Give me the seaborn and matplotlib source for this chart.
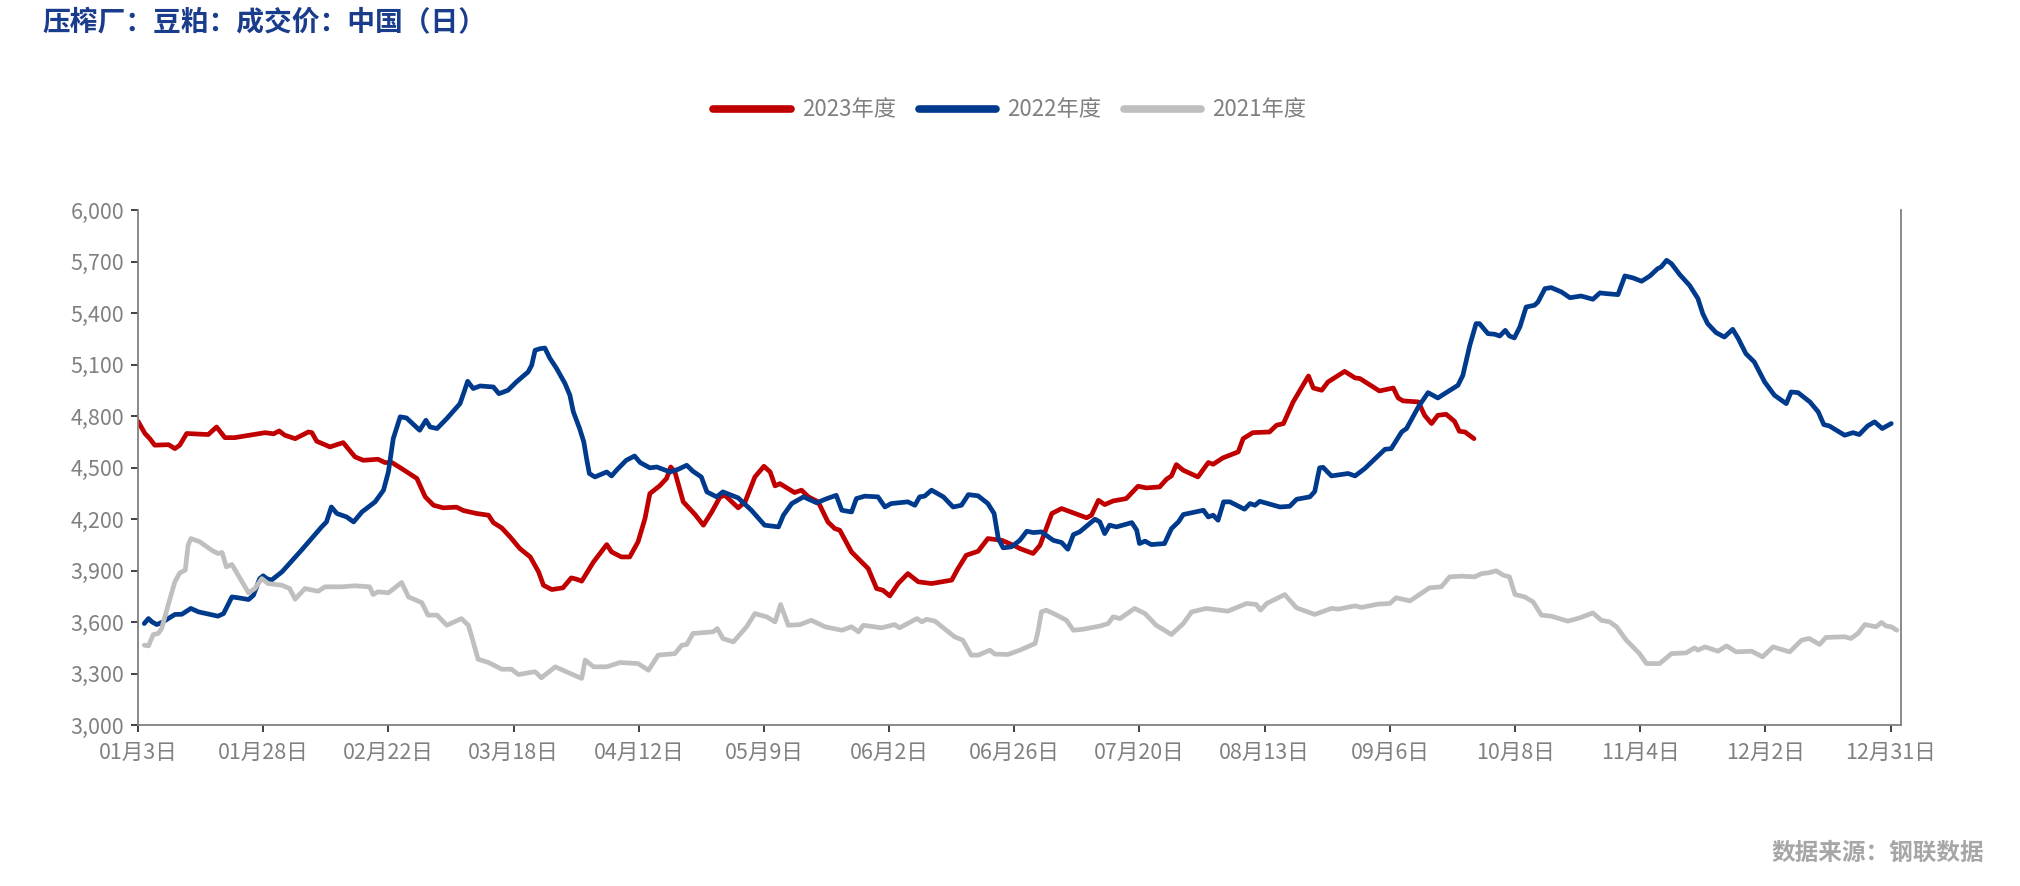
import numpy as np
import pandas as pd
import matplotlib
matplotlib.use("Agg")
import matplotlib.pyplot as plt
import seaborn as sns

# ---------------- data ----------------
title = "压榨厂：豆粕：成交价：中国（日）"
source = "数据来源：钢联数据"
series_names = ["2023年度", "2022年度", "2021年度"]
x_labels = ["01月3日", "01月28日", "02月22日", "03月18日", "04月12日", "05月9日",
            "06月2日", "06月26日", "07月20日", "08月13日", "09月6日", "10月8日",
            "11月4日", "12月2日", "12月31日"]
label_step = 18  # trading days between labelled ticks

red_idx = [0, 1, 1.7, 2.4, 4.4, 5.3, 6, 7, 10.1, 11.3, 12.5, 13.9, 18.3, 19.5, 20.3, 21.1, 22.6,
           24.5, 25, 25.7, 27.6, 29.5, 31.2, 32.4, 34.5, 35.5, 36.5, 37.9, 40.1, 41.3, 42.5, 43.9,
           45.8, 46.8, 48.7, 50.4, 51.1, 52.3, 53.5, 54.9, 56.4, 57.6, 58.3, 59.5, 61.1, 62.3,
           63.1, 63.8, 65.5, 67.4, 68.1, 69.5, 70.7, 71.9, 72.9, 73.6, 75.0, 76.0, 76.6, 77.2,
           78.4, 80.1, 81.3, 82.5, 83.7, 84.4, 86.3, 87.3, 88.7, 90.0, 90.9, 91.6, 92.3, 94.4,
           95.4, 96.4, 97.8, 99.2, 100.2, 100.9, 102.6, 105.0, 106.2, 107.1, 108.1, 109.3, 110.7,
           112.2, 114.1, 117.0, 117.9, 119.1, 120.8, 122.2, 124.2, 126.1, 126.8, 128.7, 129.7,
           131.4, 132.8, 136.4, 137.1, 138.1, 139.0, 140.2, 142.1, 143.8, 145.0, 146.9, 147.9,
           148.6, 149.3, 150.3, 152.4, 153.9, 154.6, 156.0, 158.2, 158.9, 160.3, 162.7, 163.7,
           164.7, 166.1, 168.3, 169.0, 170.2, 171.1, 173.5, 175.0, 175.7, 178.5, 180.5, 181.2,
           181.9, 184.1, 185.0, 186.0, 186.9, 188.1, 189.3, 190.0, 190.8, 192.1]
red_val = [4769, 4698, 4668, 4630, 4633, 4610, 4630, 4698, 4692, 4736, 4674, 4674, 4703, 4696, 4713,
           4688, 4668, 4707, 4703, 4653, 4620, 4645, 4562, 4542, 4548, 4529, 4529, 4494, 4436, 4329,
           4280, 4265, 4269, 4249, 4232, 4222, 4179, 4148, 4096, 4028, 3979, 3892, 3814, 3789, 3799,
           3857, 3849, 3838, 3950, 4051, 4008, 3979, 3979, 4067, 4203, 4348, 4393, 4436, 4503, 4474,
           4300, 4226, 4164, 4241, 4329, 4338, 4265, 4300, 4445, 4507, 4474, 4393, 4406, 4354, 4368,
           4329, 4300, 4183, 4144, 4135, 4008, 3911, 3795, 3785, 3752, 3824, 3882, 3834, 3824, 3844,
           3911, 3989, 4012, 4086, 4076, 4043, 4028, 3999, 4047, 4232, 4261, 4207, 4222, 4309, 4284,
           4305, 4319, 4391, 4381, 4387, 4432, 4451, 4517, 4484, 4445, 4529, 4519, 4556, 4591, 4668,
           4703, 4707, 4746, 4756, 4882, 5033, 4963, 4950, 4998, 5060, 5022, 5018, 4946, 4963, 4905,
           4888, 4882, 4804, 4756, 4804, 4810, 4769, 4711, 4707, 4668]

blue_idx = [0.9, 1.5, 2, 2.7, 3.6, 5.3, 6.3, 7.6, 8.7, 11.5, 12.3, 13.5, 14.4, 15.9, 16.6, 17.5, 18.0,
            18.5, 19.2, 20.7, 23.5, 26.4, 27.1, 27.8, 28.6, 30, 31, 32.2, 34.1, 35.3, 36, 36.7, 37.7,
            38.6, 40.5, 41.4, 42, 43, 44.4, 46.3, 46.8, 47.4, 48.2, 49.2, 51.1, 51.9, 53.2, 54.4,
            56.1, 56.6, 57.1, 57.8, 58.5, 59.2, 60.2, 61.4, 62.1, 62.6, 63.5, 64.1, 64.5, 64.9, 65.7,
            67.4, 68.1, 68.8, 70.2, 71.4, 72.2, 73.6, 74.6, 76.5, 77.7, 78.9, 79.8, 81.0, 81.8, 83.2,
            84.1, 86.3, 88.2, 90.1, 92.1, 92.8, 94.0, 95.7, 97.6, 98.8, 100.4, 101.2, 102.6, 103.3,
            104.5, 106.4, 107.4, 108.3, 110.7, 111.7, 112.4, 113.1, 114.1, 115.8, 117.2, 118.4, 119.4,
            120.8, 122.2, 123.1, 123.7, 124.4, 125.6, 126.8, 127.8, 128.7, 129.9, 131.6, 132.8, 133.7,
            134.5, 135.4, 137.6, 138.3, 139.0, 139.7, 140.7, 142.9, 143.6, 144.0, 144.8, 145.7, 147.6,
            148.6, 149.6, 150.3, 153.2, 153.9, 154.6, 155.3, 156.1, 157.0, 159.1, 159.9, 160.6, 161.3,
            164.2, 165.6, 166.6, 168.5, 169.2, 169.9, 170.4, 171.6, 174.0, 175.0, 176.4, 179.3, 180.2,
            181.7, 182.4, 184.1, 185.5, 186.9, 188.1, 189.8, 190.5, 191.5, 192.4, 192.9, 194.1, 195.1,
            195.8, 196.6, 197.2, 197.9, 198.7, 199.6, 200.8, 201.3, 202.3, 203.2, 204.7, 205.9, 207.5,
            209.2, 210.2, 211.1, 212.8, 213.8, 215.0, 216.2, 217.4, 218.5, 219.0, 219.8, 220.5, 221.7,
            223.1, 224.3, 225.0, 225.7, 226.9, 228.1, 229.3, 230.1, 231.2, 232.4, 233.9, 235.3, 237.0,
            237.7, 238.7, 240.4, 241.6, 242.4, 243.2, 245.4, 246.6, 247.5, 248.7, 249.7, 250.8, 252.1]
blue_val = [3591, 3620, 3601, 3585, 3601, 3644, 3645, 3679, 3659, 3634, 3649, 3746, 3741, 3731, 3756,
            3853, 3869, 3853, 3844, 3892, 4018, 4154, 4183, 4270, 4232, 4212, 4183, 4241, 4300, 4368,
            4474, 4668, 4795, 4789, 4717, 4775, 4736, 4727, 4785, 4872, 4930, 5002, 4960, 4975, 4969,
            4930, 4950, 4998, 5057, 5095, 5183, 5192, 5196, 5138, 5076, 4989, 4921, 4824, 4727, 4649,
            4552, 4465, 4445, 4474, 4451, 4484, 4542, 4567, 4529, 4498, 4503, 4474, 4490, 4513, 4478,
            4445, 4358, 4329, 4358, 4323, 4251, 4164, 4154, 4222, 4290, 4329, 4294, 4315, 4338, 4251,
            4241, 4319, 4333, 4329, 4270, 4290, 4300, 4280, 4329, 4333, 4368, 4329, 4270, 4280, 4342,
            4335, 4290, 4232, 4086, 4032, 4038, 4076, 4129, 4121, 4125, 4076, 4063, 4024, 4109, 4125,
            4199, 4183, 4115, 4164, 4154, 4179, 4135, 4057, 4071, 4051, 4057, 4144, 4183, 4226, 4251,
            4212, 4222, 4193, 4300, 4300, 4257, 4290, 4280, 4303, 4270, 4274, 4315, 4329, 4360, 4498,
            4501, 4451, 4465, 4451, 4494, 4606, 4610, 4707, 4727, 4853, 4936, 4905, 4936, 4979, 5037,
            5212, 5338, 5338, 5280, 5276, 5266, 5299, 5266, 5255, 5319, 5435, 5445, 5464, 5542, 5548,
            5522, 5489, 5499, 5480, 5517, 5513, 5507, 5616, 5604, 5585, 5616, 5658, 5668, 5707, 5687,
            5623, 5561, 5484, 5396, 5338, 5286, 5260, 5305, 5251, 5163, 5115, 4998, 4921, 4872, 4940,
            4936, 4882, 4824, 4750, 4742, 4688, 4703, 4692, 4742, 4766, 4727, 4756]

gray_idx = [0.9, 1.5, 2.2, 2.9, 3.4, 4.4, 5.3, 6.0, 6.8, 7.2, 7.6, 8.9, 10.6, 11.5, 12.1, 12.7, 13.5,
            14.4, 15.9, 16.8, 17.8, 18.7, 20.7, 21.8, 22.6, 24.0, 25.9, 26.9, 29.3, 31.2, 33.3, 33.8,
            34.5, 36.0, 37.9, 38.9, 40.8, 41.7, 43.0, 44.4, 46.5, 47.5, 48.2, 48.9, 50.4, 52.3, 53.7,
            54.7, 56.4, 57.1, 58.0, 60.0, 61.6, 63.8, 64.3, 65.5, 67.4, 69.3, 71.9, 73.4, 74.8, 77.2,
            78.2, 78.9, 79.8, 82.7, 83.3, 84.1, 85.6, 87.5, 88.7, 90.4, 91.6, 92.4, 93.5, 95.2, 96.8,
            98.8, 101.2, 102.6, 103.6, 104.3, 106.9, 108.8, 109.5, 112.0, 112.7, 113.4, 114.6, 117.4,
            118.6, 119.8, 120.8, 122.5, 123.2, 125.1, 126.8, 129.0, 129.4, 129.9, 130.6, 132.1, 133.5,
            134.5, 135.9, 138.3, 139.5, 140.2, 141.2, 143.3, 144.8, 146.4, 148.6, 150.3, 151.5, 153.6,
            156.7, 159.4, 160.8, 161.4, 162.3, 164.9, 165.6, 166.6, 169.2, 171.6, 172.6, 175.0, 175.9,
            178.3, 180.0, 180.9, 182.9, 185.7, 187.4, 188.6, 190.3, 192.2, 193.2, 194.1, 195.3, 196.3,
            197.2, 198.0, 199.4, 200.6, 201.8, 203.2, 205.6, 207.3, 209.2, 210.4, 211.6, 212.6, 214.0,
            215.9, 216.9, 218.8, 220.5, 222.6, 223.8, 224.3, 225.3, 227.2, 228.4, 229.8, 232.0, 233.6,
            235.1, 237.5, 239.2, 240.3, 241.8, 242.7, 245.4, 246.3, 247.3, 248.3, 249.9, 250.7, 251.4,
            252.1, 252.9]
gray_val = [3465, 3461, 3527, 3533, 3562, 3708, 3834, 3886, 3902, 4047, 4086, 4067, 4018, 3999, 4005,
            3921, 3935, 3873, 3770, 3795, 3853, 3824, 3814, 3795, 3733, 3795, 3779, 3805, 3805, 3811,
            3805, 3760, 3776, 3770, 3830, 3746, 3713, 3640, 3640, 3581, 3620, 3581, 3484, 3383, 3364,
            3325, 3325, 3294, 3306, 3310, 3275, 3339, 3310, 3271, 3378, 3339, 3339, 3364, 3358, 3319,
            3407, 3416, 3465, 3469, 3533, 3543, 3562, 3504, 3484, 3572, 3649, 3630, 3601, 3702, 3581,
            3585, 3610, 3572, 3552, 3572, 3543, 3581, 3566, 3585, 3566, 3620, 3601, 3616, 3605, 3514,
            3494, 3407, 3407, 3436, 3413, 3411, 3436, 3475, 3543, 3659, 3669, 3640, 3610, 3552, 3558,
            3576, 3591, 3630, 3620, 3679, 3649, 3581, 3527, 3591, 3659, 3679, 3663, 3708, 3702, 3669,
            3708, 3760, 3727, 3682, 3644, 3679, 3675, 3694, 3685, 3704, 3708, 3741, 3723, 3799, 3805,
            3863, 3867, 3863, 3882, 3886, 3898, 3873, 3863, 3760, 3746, 3717, 3640, 3634, 3605, 3624,
            3653, 3610, 3601, 3572, 3494, 3416, 3358, 3358, 3416, 3420, 3449, 3436, 3455, 3430, 3461,
            3426, 3430, 3397, 3455, 3426, 3494, 3504, 3469, 3510, 3514, 3504, 3533, 3585, 3572, 3597,
            3576, 3572, 3552]

y_ticks = [3000, 3300, 3600, 3900, 4200, 4500, 4800, 5100, 5400, 5700, 6000]

# ---------------- build frame ----------------
df = pd.concat([
    pd.DataFrame({"idx": red_idx, "price": red_val, "year": series_names[0]}),
    pd.DataFrame({"idx": blue_idx, "price": blue_val, "year": series_names[1]}),
    pd.DataFrame({"idx": gray_idx, "price": gray_val, "year": series_names[2]}),
], ignore_index=True)

palette = {series_names[0]: "#C00000", series_names[1]: "#003A8C", series_names[2]: "#BFBFBF"}

# ---------------- style ----------------
sns.set_theme(style="white")
plt.rcParams["font.family"] = ["Noto Sans CJK SC", "DejaVu Sans"]
plt.rcParams["axes.unicode_minus"] = False

W, H = 2020, 886
fig = plt.figure(figsize=(W / 100, H / 100), dpi=100)
ax = fig.add_axes([138 / W, 1 - 725 / H, (1901 - 138) / W, (725 - 210) / H])

sns.lineplot(data=df, x="idx", y="price", hue="year", hue_order=series_names,
             palette=palette, estimator=None, sort=False, linewidth=3.4, ax=ax)

for ln in ax.lines:
    ln.set_solid_capstyle("round")
    ln.set_solid_joinstyle("round")

ax.set_xlim(0, 253.5)
ax.set_ylim(3000, 6000)
ax.set_yticks(y_ticks)
ax.set_yticklabels([f"{v:,}" for v in y_ticks])
ax.set_xticks(np.arange(len(x_labels)) * label_step)
ax.set_xticklabels(x_labels)
ax.set_xlabel("")
ax.set_ylabel("")
ax.grid(False)

for side in ["left", "bottom", "right"]:
    ax.spines[side].set_visible(True)
    ax.spines[side].set_color("#808080")
    ax.spines[side].set_linewidth(1.3)
ax.spines["top"].set_visible(False)

ax.tick_params(axis="both", which="major", direction="out", length=5, width=1.3,
               color="#333333", labelcolor="#808080", labelsize=15.5)
ax.tick_params(axis="y", left=True, right=False, pad=5)
ax.tick_params(axis="x", bottom=True, pad=7)

# legend
handles, labels = ax.get_legend_handles_labels()
if ax.get_legend() is not None:
    ax.get_legend().remove()
leg = fig.legend(handles, labels, loc="center", bbox_to_anchor=(0.5, 1 - 110 / H), ncol=3,
                 frameon=False, fontsize=16, handlelength=3.5, handletextpad=0.5,
                 columnspacing=1.0, labelcolor="#808080")
for h in leg.legend_handles:
    h.set_linewidth(5.5)
    h.set_solid_capstyle("round")

fig.text(42 / W, 1 - 23 / H, title, fontsize=20, fontweight="bold", color="#1A3C8C",
         ha="left", va="center")
fig.text(1984 / W, 1 - 853 / H, source, fontsize=17, fontweight="bold", color="#A6A6A6",
         ha="right", va="center")

fig.savefig("out.png", dpi=100)
